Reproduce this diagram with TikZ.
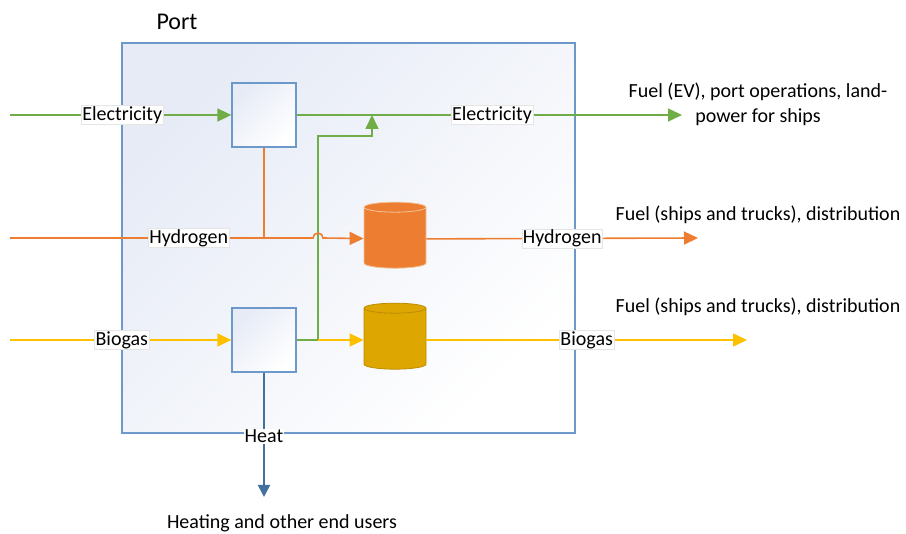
\documentclass[tikz,border=0pt]{standalone}
\usepackage{fontspec}
\setmainfont{Carlito}
\usetikzlibrary{arrows.meta,shapes.geometric}
\definecolor{cgreen}{RGB}{112,173,71}
\definecolor{corange}{RGB}{237,125,49}
\definecolor{cyellow}{RGB}{255,192,0}
\definecolor{cgold}{RGB}{221,166,0}
\definecolor{cblue}{RGB}{108,152,202}
\definecolor{cdblue}{RGB}{65,113,156}
\definecolor{cshade}{RGB}{230,235,246}
\tikzset{portsec/.style={x=1pt,y=-1pt,font=\fontsize{20}{25}\selectfont},
  portbox/.style={draw=cblue,line width=1.3pt,minimum width=453pt,minimum height=390pt,
    left color=cshade,right color=white,shading angle=45},
  unit/.style={draw=cblue,line width=1.3pt,minimum size=64pt,
    left color=cshade,right color=white,shading angle=45},
  tank/.style={cylinder,shape border rotate=90,aspect=1.5,minimum width=62pt,
    minimum height=66pt,line width=0.8pt},
  flow/.style={line width=1.6pt},
  tip/.style={-{Triangle[length=14pt,width=13pt]}},
  lbl/.style={fill=white,draw=black!10,text=black,line width=0.4pt,inner sep=1pt}}

\begin{document}
\begin{tikzpicture}[portsec]
  \useasboundingbox (0,0) rectangle (906,534);
  \node[portbox] (port) at (348.5,238) {};
  \node[anchor=base,font=\fontsize{24}{28}\selectfont] (portlbl) at (177,30) {Port};
  \node[unit] (elconv) at (264,115) {};
  \node[unit] (bioconv) at (264,340) {};
  \node[tank,fill=corange,draw=black!15!orange!40!white] (h2tank) at (395,239) {};
  \node[tank,fill=cgold,draw=cgold!85!black] (biotank) at (395,340) {};
  \coordinate (elin) at (10,115);   \coordinate (elout) at (682,115);
  \coordinate (h2in) at (10,238);   \coordinate (h2out) at (698,238);
  \coordinate (bioin) at (10,340);  \coordinate (bioout) at (747,340);
  \coordinate (jn) at (318,136);    \coordinate (merge) at (372,115);
  \coordinate (hop) at (313,238);   \coordinate (heatend) at (264,497);
  % electricity
  \draw[flow,cgreen,tip] (elin) -- node[lbl,pos=0.507] {Electricity} (elconv);
  \draw[flow,cgreen,tip] (elconv) -- node[lbl,pos=0.507] {Electricity} (elout);
  \draw[flow,cgreen,tip] (bioconv.east) -| (jn) -| (merge);
  % hydrogen
  \draw[flow,corange] (elconv) -- (elconv |- h2in);
  \draw[flow,corange,tip] (h2in) -- node[lbl,pos=0.59] {Hydrogen} (hop)
    arc[start angle=180,end angle=0,radius=5pt] -- (h2tank);
  \draw[flow,corange,tip] (h2tank) -- node[lbl] {Hydrogen} (h2out);
  % biogas
  \draw[flow,cyellow,tip] (bioin) -- node[lbl,pos=0.505] {Biogas} (bioconv);
  \draw[flow,cyellow,tip] (bioconv.east -| jn) -- (biotank);
  \draw[flow,cyellow,tip] (biotank) -- node[lbl] {Biogas} (bioout);
  % heat
  \draw[line width=2pt,cdblue,-{Triangle[length=12pt,width=12pt]}] (bioconv)
    -- node[lbl,draw=none,pos=0.51] {Heat} (heatend);
  % end users
  \node[align=center] (elusers) at (758,104) {Fuel (EV), port operations, land-\\power for ships};
  \node (h2users) at (758,215) {Fuel (ships and trucks), distribution};
  \node (biousers) at (758,307) {Fuel (ships and trucks), distribution};
  \node (heatusers) at (282,523) {Heating and other end users};
\end{tikzpicture}
\end{document}
